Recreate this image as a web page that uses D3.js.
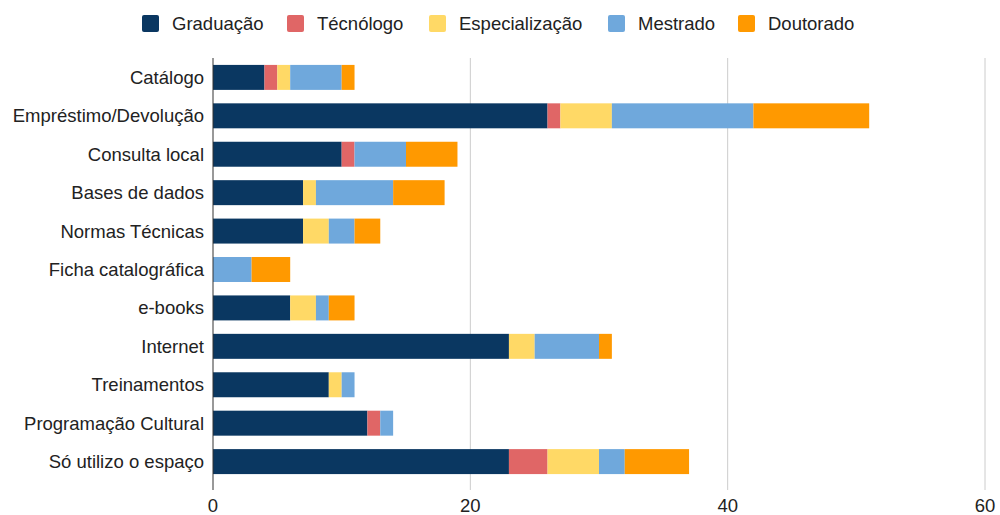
<!DOCTYPE html>
<html>
<head>
<meta charset="utf-8">
<script src="https://cdn.jsdelivr.net/npm/d3@7"></script>
<style>
  body { margin: 0; background: #fff; }
  text { font-family: "Liberation Sans", Arial, sans-serif; fill: #222; }
</style>
</head>
<body>
<div id="chart"></div>
<script>
// Categories (top to bottom)
const categories = [
  "Catálogo", "Empréstimo/Devolução", "Consulta local", "Bases de dados",
  "Normas Técnicas", "Ficha catalográfica", "e-books", "Internet",
  "Treinamentos", "Programação Cultural", "Só utilizo o espaço"
];

const seriesNames = ["Graduação", "Técnólogo", "Especialização", "Mestrado", "Doutorado"];
const seriesColors = ["#0a3761", "#e06666", "#ffd966", "#6fa8dc", "#ff9900"];

// one array per series, aligned with categories
const graduacao      = [4, 26, 10, 7, 7, 0, 6, 23, 9, 12, 23];
const tecnologo      = [1, 1, 1, 0, 0, 0, 0, 0, 0, 1, 3];
const especializacao = [1, 4, 0, 1, 2, 0, 2, 2, 1, 0, 4];
const mestrado       = [4, 11, 4, 6, 2, 3, 1, 5, 1, 1, 2];
const doutorado      = [1, 9, 4, 4, 2, 3, 2, 1, 0, 0, 5];

const xTicks = [0, 20, 40, 60];

const width = 1000, height = 515;
const margin = { top: 58, right: 15, bottom: 33, left: 213 };
const fontSize = '18.5px';

const rows = categories.map((c, i) => ({
  cat: c,
  "Graduação": graduacao[i],
  "Técnólogo": tecnologo[i],
  "Especialização": especializacao[i],
  "Mestrado": mestrado[i],
  "Doutorado": doutorado[i]
}));

const stacked = d3.stack().keys(seriesNames)(rows);

const svg = d3.select('#chart').append('svg')
  .attr('width', width)
  .attr('height', height);

const x = d3.scaleLinear()
  .domain([0, 60])
  .range([margin.left, 985]);

const y = d3.scaleBand()
  .domain(categories)
  .range([margin.top, height - margin.bottom - 1])
  .paddingInner(0.35)
  .paddingOuter(0.18);

const color = d3.scaleOrdinal().domain(seriesNames).range(seriesColors);

// gridlines
svg.append('g')
  .selectAll('line')
  .data(xTicks.filter(d => d > 0))
  .join('line')
    .attr('x1', d => x(d))
    .attr('x2', d => x(d))
    .attr('y1', margin.top)
    .attr('y2', 490)
    .attr('stroke', '#cccccc')
    .attr('stroke-width', 1);

// bars
svg.append('g')
  .selectAll('g')
  .data(stacked)
  .join('g')
    .attr('fill', d => color(d.key))
  .selectAll('rect')
  .data(d => d.filter(s => s[1] - s[0] > 0))
  .join('rect')
    .attr('x', d => x(d[0]))
    .attr('y', d => y(d.data.cat))
    .attr('width', d => x(d[1]) - x(d[0]))
    .attr('height', y.bandwidth());

// axis line
svg.append('line')
  .attr('x1', x(0)).attr('x2', x(0))
  .attr('y1', margin.top).attr('y2', 490)
  .attr('stroke', '#333')
  .attr('stroke-width', 1);

// category labels
svg.append('g')
  .selectAll('text')
  .data(categories)
  .join('text')
    .attr('x', margin.left - 9)
    .attr('y', d => y(d) + y.bandwidth() / 2)
    .attr('dy', '0.35em')
    .attr('text-anchor', 'end')
    .attr('font-size', fontSize)
    .text(d => d);

// x tick labels
svg.append('g')
  .selectAll('text')
  .data(xTicks)
  .join('text')
    .attr('x', d => x(d))
    .attr('y', 506)
    .attr('dy', '0.35em')
    .attr('text-anchor', 'middle')
    .attr('font-size', fontSize)
    .text(d => d);

// legend
const legendX = [142, 287, 429, 608, 738];
const legend = svg.append('g')
  .selectAll('g')
  .data(seriesNames)
  .join('g')
    .attr('transform', (d, i) => `translate(${legendX[i]}, 15)`);

legend.append('rect')
  .attr('width', 17)
  .attr('height', 17)
  .attr('rx', 2)
  .attr('fill', d => color(d));

legend.append('text')
  .attr('x', 30)
  .attr('y', 8.5)
  .attr('dy', '0.35em')
  .attr('font-size', fontSize)
  .text(d => d);
</script>
</body>
</html>
